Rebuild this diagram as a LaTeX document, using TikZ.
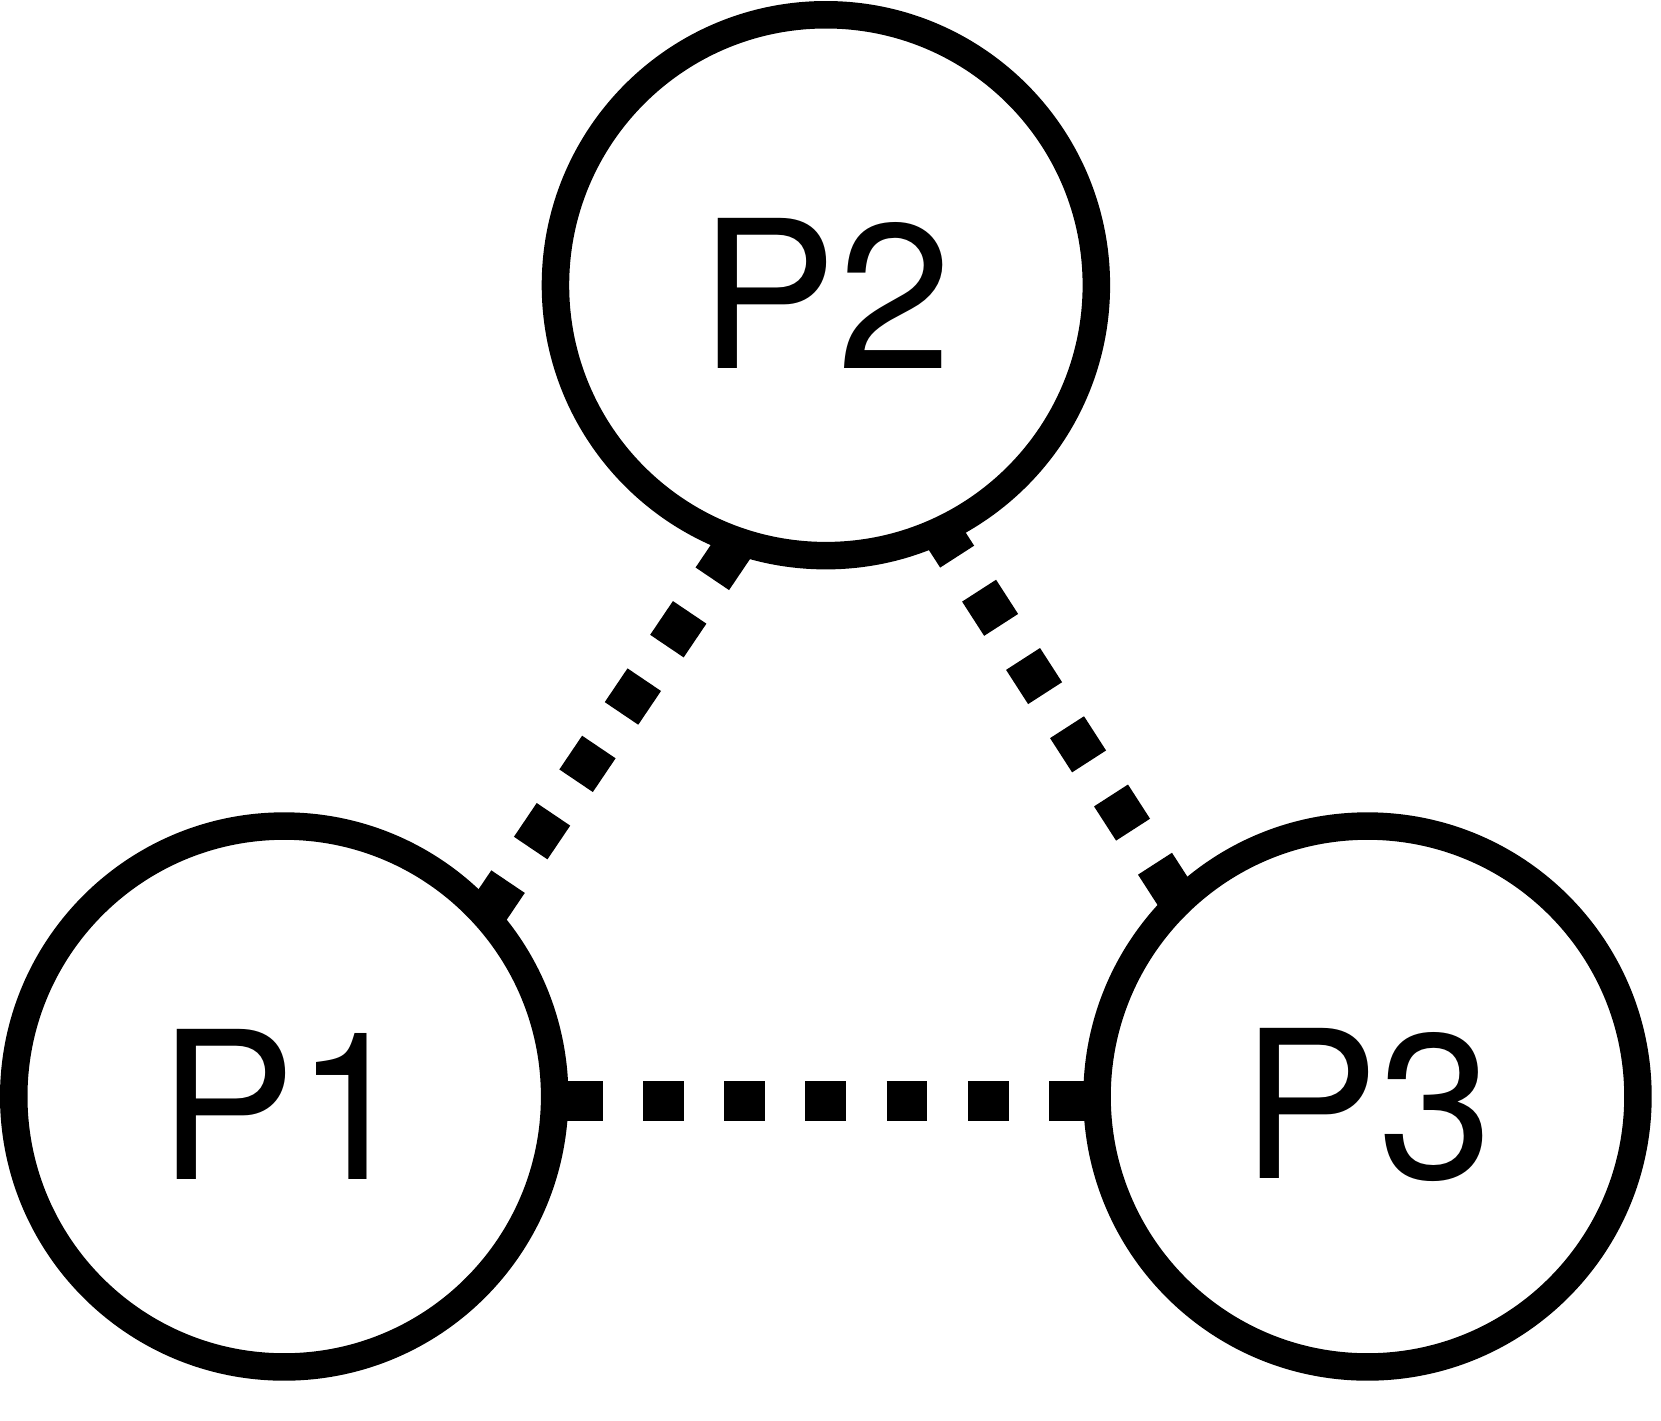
\documentclass[tikz,border=0pt]{standalone}
\usepackage{fontspec}
\setmainfont{TeX Gyre Heros}
\usetikzlibrary{backgrounds}
\begin{document}
\begin{tikzpicture}[x=0.5pt,y=-0.5pt,
 proc/.style={circle,draw=black,fill=white,line width=13.75pt,minimum size=270.45pt,inner sep=0pt,outer sep=0pt},
 lbl/.style={font=\fontsize{103}{120}\selectfont,yshift=-4pt,inner sep=0pt},
 link/.style={line width=20.2pt,dash pattern=on 20.35pt off 20.25pt}]
\useasboundingbox (0,0) rectangle (1661,1420);
\node[proc,label={[lbl]center:P2}] (p2) at (825.9,285.2) {};
\node[proc,label={[lbl]center:P1}] (p1) at (284.2,1096.5) {};
\node[proc,label={[lbl]center:P3}] (p3) at (1367.5,1096.5) {};
\begin{scope}[on background layer]
\draw[link,dash phase=40.5pt] (p1.42.93) -- (p2.251.03);
\draw[link,dash phase=4.7pt] (p2.-65.82) -- (p3.134.69);
\draw[link,dash phase=37pt] (p1.-1.53) -- (p3.181.53);
\end{scope}
\end{tikzpicture}
\end{document}
